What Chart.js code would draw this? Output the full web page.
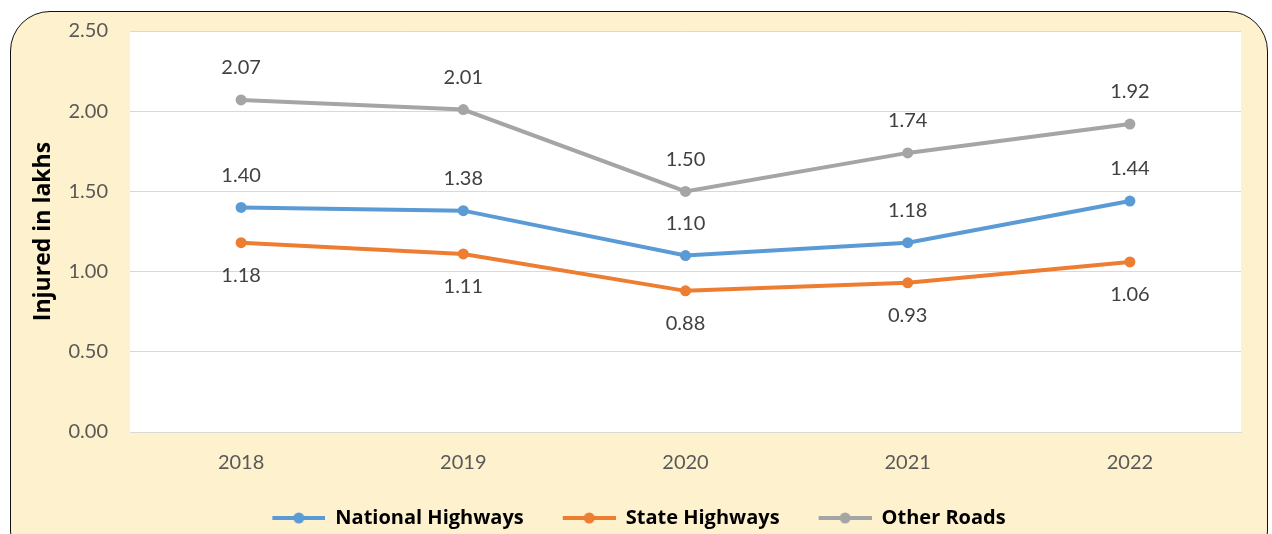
<!DOCTYPE html>
<html>
<head>
<meta charset="utf-8">
<script src="https://cdn.jsdelivr.net/npm/chart.js@4"></script>
<style>
  body { margin: 0; background: #ffffff; width: 1272px; height: 534px; overflow: hidden; position: relative; }
  #frame {
    position: absolute; left: 10px; top: 11px; width: 1258px; height: 560px;
    background: #fef1cd; border: 1.5px solid #111; border-radius: 40px; box-sizing: border-box;
  }
  #wrap { position: absolute; left: 0; top: 0; width: 1272px; height: 534px; }
</style>
</head>
<body>
<div id="frame"></div>
<div id="wrap"><canvas id="chart"></canvas></div>
<script>
// Data (injured, in lakhs)
const years = ['2018', '2019', '2020', '2021', '2022'];
const nationalHighways = [1.40, 1.38, 1.10, 1.18, 1.44];
const stateHighways = [1.18, 1.11, 0.88, 0.93, 1.06];
const otherRoads = [2.07, 2.01, 1.50, 1.74, 1.92];
const yTicks = [0, 0.5, 1.0, 1.5, 2.0, 2.5];

const FONT = 'Lato';
const BOLD_FONT = 'Open Sans';

// Legend marker: short line with a dot in the middle (blank strip on the left = gap to previous item)
function legendMarker(color) {
    const c = document.createElement('canvas');
    c.width = 60; c.height = 14;
    const ctx = c.getContext('2d');
    ctx.strokeStyle = color;
    ctx.lineWidth = 4;
    ctx.beginPath();
    ctx.moveTo(7, 7); ctx.lineTo(60, 7);
    ctx.stroke();
    ctx.fillStyle = color;
    ctx.beginPath();
    ctx.arc(33.5, 7, 5.5, 0, Math.PI * 2);
    ctx.fill();
    return c;
}

// White plot area
const plotBackground = {
    id: 'plotBackground',
    beforeDraw(chart) {
        const {ctx, chartArea: a} = chart;
        ctx.save();
        ctx.fillStyle = '#ffffff';
        ctx.fillRect(a.left, a.top, a.right - a.left, a.bottom - a.top);
        ctx.restore();
    }
};

// Value labels: above for national / other, below for state
const valueLabels = {
    id: 'valueLabels',
    afterDatasetsDraw(chart) {
        const ctx = chart.ctx;
        ctx.save();
        ctx.font = '20px ' + FONT;
        ctx.fillStyle = '#404040';
        ctx.textAlign = 'center';
        ctx.textBaseline = 'middle';
        chart.data.datasets.forEach((ds, i) => {
            const meta = chart.getDatasetMeta(i);
            meta.data.forEach((pt, j) => {
                const dy = ds.labelBelow ? 33 : -32;
                ctx.fillText(ds.data[j].toFixed(2), pt.x, pt.y + dy);
            });
        });
        ctx.restore();
    }
};

const chartCtx = document.getElementById('chart').getContext('2d');
new Chart(chartCtx, {
    type: 'line',
    data: {
        labels: years,
        datasets: [
            { label: 'National Highways', data: nationalHighways, borderColor: '#5b9bd5', backgroundColor: '#5b9bd5', marker: legendMarker('#5b9bd5') },
            { label: 'State Highways', data: stateHighways, borderColor: '#ed7d31', backgroundColor: '#ed7d31', marker: legendMarker('#ed7d31'), labelBelow: true },
            { label: 'Other Roads', data: otherRoads, borderColor: '#a5a5a5', backgroundColor: '#a5a5a5', marker: legendMarker('#a5a5a5') }
        ]
    },
    options: {
        responsive: true,
        maintainAspectRatio: false,
        animation: false,
        datasets: {
            line: { borderWidth: 4, tension: 0, pointRadius: 5.5, pointBorderWidth: 0, fill: false }
        },
        layout: { padding: { left: 30, right: 31, top: 31, bottom: 0 } },
        scales: {
            x: {
                offset: true,
                grid: { display: false, drawTicks: false },
                border: { display: true, color: '#d9d9d9', width: 1 },
                ticks: { color: '#595959', font: { family: FONT, size: 20 }, padding: 19 },
                afterFit(scale) { scale.height = 44; }
            },
            y: {
                min: 0, max: 2.5,
                afterBuildTicks(scale) { scale.ticks = yTicks.map(v => ({ value: v })); },
                grid: { color: '#d9d9d9', lineWidth: 1, drawTicks: false },
                border: { display: false },
                ticks: {
                    color: '#595959', font: { family: FONT, size: 20 }, padding: 22,
                    callback: v => Number(v).toFixed(2)
                },
                title: {
                    display: true, text: 'Injured in lakhs', color: '#000000',
                    font: { family: BOLD_FONT, size: 23, weight: 'bold' }, padding: { top: 0, bottom: 0 }
                },
                afterFit(scale) {
                    scale.width = 100;
                    scale.paddingTop = 0;
                    scale.paddingBottom = 0;
                }
            }
        },
        plugins: {
            legend: {
                position: 'bottom',
                maxHeight: 58,
                labels: {
                    color: '#000000',
                    font: { family: BOLD_FONT, size: 20, weight: 'bold' },
                    usePointStyle: true,
                    pointStyleWidth: 60,
                    padding: 32,
                    generateLabels(chart) {
                        return chart.data.datasets.map((ds, i) => ({
                            text: ds.label,
                            fontColor: '#000000',
                            pointStyle: ds.marker,
                            datasetIndex: i,
                            hidden: false,
                            lineWidth: 0
                        }));
                    }
                }
            },
            tooltip: { enabled: false }
        }
    },
    plugins: [plotBackground, valueLabels]
});
</script>
</body>
</html>
